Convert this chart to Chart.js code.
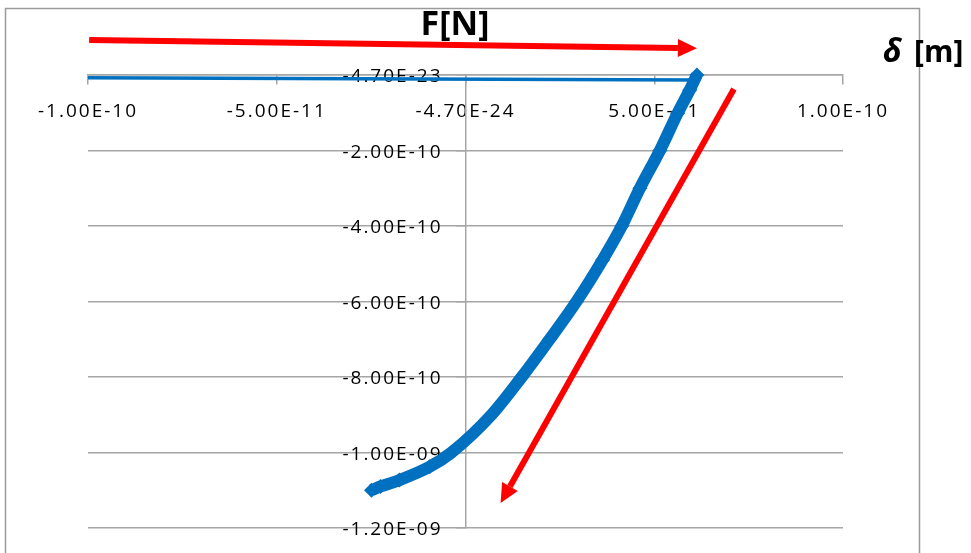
<!DOCTYPE html>
<html>
<head>
<meta charset="utf-8">
<script src="https://cdn.jsdelivr.net/npm/chart.js@4/dist/chart.umd.min.js"></script>
<style>
  html, body { margin: 0; padding: 0; background: #ffffff; }
  #wrap { width: 971px; height: 553px; }
</style>
</head>
<body>
<div id="wrap"><canvas id="c" width="971" height="553"></canvas></div>
<script>
// Loading curve: displacement δ [m] vs force F [N]
const curveX = [6.13e-11, 5.94e-11, 5.62e-11, 5.15e-11, 4.62e-11, 4.14e-11, 3.63e-11, 2.94e-11,
                2.23e-11, 1.49e-11, 6.9e-12, -3.7e-12, -9.5e-12, -1.75e-11, -2.25e-11, -2.49e-11];
const curveY = [0, -3.97e-11, -1.01e-10, -2.0e-10, -3.0e-10, -4.0e-10, -4.9e-10, -6.0e-10,
                -7.0e-10, -8.0e-10, -9.0e-10, -1.0e-9, -1.038e-9, -1.073e-9, -1.09e-9, -1.10e-9];

// Approach path before contact
const approachX = [-1.0e-10, 6.1e-11];
const approachY = [-7e-12, -1.3e-11];

// Axis ticks and their printed labels
const xTickValues = [-1e-10, -5e-11, 0, 5e-11, 1e-10];
const xTickLabels = ['-1.00E-10', '-5.00E-11', '-4.70E-24', '5.00E-11', '1.00E-10'];
const yTickValues = [0, -2e-10, -4e-10, -6e-10, -8e-10, -1e-9, -1.2e-9];
const yTickLabels = ['-4.70E-23', '-2.00E-10', '-4.00E-10', '-6.00E-10', '-8.00E-10', '-1.00E-09', '-1.20E-09'];

// Direction arrows, in axis units [x, y]
const arrowApproachFrom = [-9.97e-11, 9.3e-11];
const arrowApproachTo = [6.13e-11, 7.1e-11];
const arrowLoadFrom = [7.11e-11, -3.7e-11];
const arrowLoadTo = [0.93e-11, -1.134e-9];

const BLUE = '#0070C0';
const RED = '#FF0000';
const GRID = '#a6a6a6';
const TICK_FONT = { family: "'Open Sans', sans-serif", size: 19 };
const Y_LABEL_GAP = 23;   // y labels sit left of the central axis
const Y_LABEL_DROP = 2;

const toPoints = (xs, ys) => xs.map((x, i) => ({ x: x, y: ys[i] }));

function drawArrow(ctx, xs, ys, from, to) {
  const x0 = xs.getPixelForValue(from[0]), y0 = ys.getPixelForValue(from[1]);
  const x1 = xs.getPixelForValue(to[0]), y1 = ys.getPixelForValue(to[1]);
  const ang = Math.atan2(y1 - y0, x1 - x0);
  const headLen = 19, headHalf = 9;
  const bx = x1 - headLen * Math.cos(ang), by = y1 - headLen * Math.sin(ang);
  ctx.save();
  ctx.strokeStyle = RED;
  ctx.fillStyle = RED;
  ctx.lineWidth = 6;
  ctx.lineCap = 'butt';
  ctx.beginPath();
  ctx.moveTo(x0, y0);
  ctx.lineTo(bx, by);
  ctx.stroke();
  ctx.beginPath();
  ctx.moveTo(x1, y1);
  ctx.lineTo(bx + headHalf * Math.sin(ang), by - headHalf * Math.cos(ang));
  ctx.lineTo(bx - headHalf * Math.sin(ang), by + headHalf * Math.cos(ang));
  ctx.closePath();
  ctx.fill();
  ctx.restore();
}

const decorations = {
  id: 'decorations',
  beforeDraw(chart) {
    const ctx = chart.ctx;
    ctx.letterSpacing = '2px';
    // push the y tick labels away from the axis that crosses at x = 0
    const items = chart.scales.y.getLabelItems(chart.chartArea);
    if (!items._moved) {
      items.forEach(it => {
        it.options.translation[0] -= Y_LABEL_GAP;
        it.options.translation[1] += Y_LABEL_DROP;
      });
      items._moved = true;
    }
    ctx.save();
    ctx.letterSpacing = '0px';
    ctx.strokeStyle = '#9a9a9a';
    ctx.lineWidth = 1.5;
    ctx.strokeRect(5.5, 8.5, 914, 600);
    ctx.restore();
  },
  afterDraw(chart) {
    const ctx = chart.ctx;
    const xs = chart.scales.x, ys = chart.scales.y;
    drawArrow(ctx, xs, ys, arrowApproachFrom, arrowApproachTo);
    drawArrow(ctx, xs, ys, arrowLoadFrom, arrowLoadTo);
    ctx.save();
    ctx.letterSpacing = '0px';
    ctx.fillStyle = '#000';
    ctx.textBaseline = 'alphabetic';
    ctx.textAlign = 'center';
    ctx.font = "bold 34px 'Open Sans', sans-serif";
    ctx.fillText('F[N]', 455, 35);
    ctx.textAlign = 'left';
    ctx.font = "italic bold 32px 'Open Sans', sans-serif";
    ctx.fillText('δ', 883, 62);
    ctx.font = "bold 30px 'Open Sans', sans-serif";
    ctx.fillText('[m]', 914, 62);
    ctx.restore();
  }
};

new Chart(document.getElementById('c'), {
  type: 'scatter',
  data: {
    datasets: [
      {
        data: toPoints(curveX, curveY),
        showLine: true,
        borderColor: BLUE,
        backgroundColor: BLUE,
        borderWidth: 12,
        cubicInterpolationMode: 'monotone',
        pointStyle: 'rectRot',
        pointRadius: 7.5,
        pointBorderWidth: 0,
        clip: false,
        order: 0
      },
      {
        data: toPoints(approachX, approachY),
        showLine: true,
        borderColor: BLUE,
        borderWidth: 3.5,
        pointRadius: 0,
        clip: false,
        order: 1
      }
    ]
  },
  options: {
    responsive: false,
    animation: false,
    events: [],
    layout: { padding: { left: 88, right: 128, top: 75, bottom: 25 } },
    plugins: { legend: { display: false }, tooltip: { enabled: false } },
    scales: {
      x: {
        type: 'linear',
        position: { y: 0 },
        min: -1e-10,
        max: 1e-10,
        afterBuildTicks: (scale) => { scale.ticks = xTickValues.map(v => ({ value: v })); },
        ticks: {
          callback: (v, i) => xTickLabels[i],
          font: TICK_FONT,
          color: '#000',
          padding: 16,
          maxRotation: 0,
          autoSkip: false
        },
        grid: { drawOnChartArea: false, tickLength: 9, color: GRID, lineWidth: 1.5 },
        border: { color: GRID, width: 1.5 }
      },
      y: {
        type: 'linear',
        position: { x: 0 },
        min: -1.2e-9,
        max: 0,
        afterBuildTicks: (scale) => { scale.ticks = yTickValues.map(v => ({ value: v })); },
        ticks: {
          callback: (v, i) => yTickLabels[i],
          font: TICK_FONT,
          color: '#000',
          autoSkip: false
        },
        grid: { color: GRID, lineWidth: 1.5, tickLength: 9 },
        border: { color: GRID, width: 1.5 }
      }
    }
  },
  plugins: [decorations]
});
</script>
</body>
</html>
